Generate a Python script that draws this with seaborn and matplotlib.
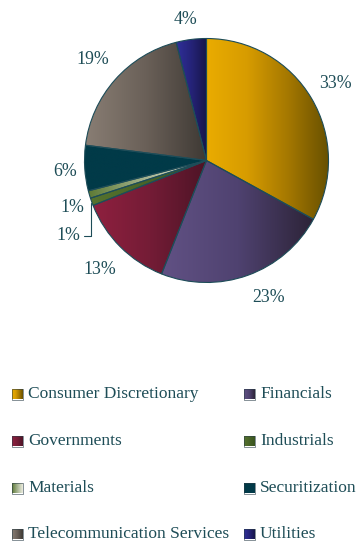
import numpy as np
import matplotlib
matplotlib.use("Agg")
import matplotlib.pyplot as plt
from matplotlib.patches import Rectangle
import seaborn as sns

# Portfolio allocation by sector (percent)
sectors = ["Consumer Discretionary", "Financials", "Governments", "Industrials",
           "Materials", "Securitization", "Telecommunication Services", "Utilities"]
weights = [33, 23, 13, 1, 1, 6, 19, 4]

# Left-to-right shading stops for each sector
shades = [
    ["#EAAC00", "#D79C00", "#A57800", "#675000"],
    ["#615184", "#4F4270", "#2C2337"],
    ["#8F203F", "#741C36", "#4D1426"],
    ["#56732E", "#3A5420"],
    ["#5D7A35", "#A8B592", "#ECECE0"],
    ["#013A48", "#013A48"],
    ["#897E74", "#6A6058", "#3E3934"],
    ["#30309A", "#252378", "#161548"],
]

sns.set_theme(style="white")
plt.rcParams["font.family"] = ["Liberation Serif", "DejaVu Serif"]
TEXT = "#1E4D57"
EDGE = "#1D4C58"

W, H = 357, 541
fig = plt.figure(figsize=(W / 100, H / 100), dpi=100)
ax = fig.add_axes([0, 0, 1, 1])


def Y(py):
    return H - py


cx, cy, r = 206.5, Y(160.5), 122

wedges, _ = ax.pie(weights, startangle=90, counterclock=False,
                   center=(cx, cy), radius=r,
                   wedgeprops=dict(linewidth=0.8, edgecolor=EDGE))

grad = np.linspace(0, 1, 256).reshape(1, -1)
for w, stops in zip(wedges, shades):
    cmap = sns.blend_palette(stops, as_cmap=True)
    ext = w.get_path().get_extents()
    im = ax.imshow(grad, extent=[ext.x0, ext.x1, ext.y0, ext.y1], cmap=cmap,
                   aspect="auto", origin="lower", interpolation="bilinear",
                   zorder=1)
    im.set_clip_path(w)
    w.set_facecolor("none")
    w.set_zorder(2)

# Percentage labels around the pie
label_pos = [(335, 84), (269, 297), (100, 270), (68, 235),
             (72, 208), (65, 171), (93, 60), (186, 19)]
for v, (px, py) in zip(weights, label_pos):
    ax.text(px, Y(py), f"{v}%", ha="center", va="center",
            fontsize=12.8, color=TEXT, zorder=3)

# Leader line for the small Industrials slice
ax.plot([84, 91, 91], [Y(236), Y(236), Y(203)], color=EDGE, lw=0.8, zorder=3)

# Legend: two columns of shaded swatches
cols_x = [12, 244]
rows_y = [394, 441, 488, 534]
for i, (name, stops) in enumerate(zip(sectors, shades)):
    sx = cols_x[i % 2]
    sy = rows_y[i // 2]
    sq = Rectangle((sx, Y(sy + 5.5)), 11, 11, facecolor="none",
                   edgecolor="#2A3E48", linewidth=0.4, zorder=3)
    ax.add_patch(sq)
    im = ax.imshow(grad, extent=[sx, sx + 11, Y(sy + 5.5), Y(sy - 5.5)],
                   cmap=sns.blend_palette(stops, as_cmap=True), aspect="auto",
                   origin="lower", interpolation="bilinear", zorder=2)
    im.set_clip_path(sq)
    ax.text(sx + 16, Y(sy), name, ha="left", va="center",
            fontsize=12.5, color=TEXT)

ax.set_xlim(0, W)
ax.set_ylim(0, H)
ax.set_aspect("auto")
ax.set_axis_off()

fig.savefig("out.png", dpi=100)
